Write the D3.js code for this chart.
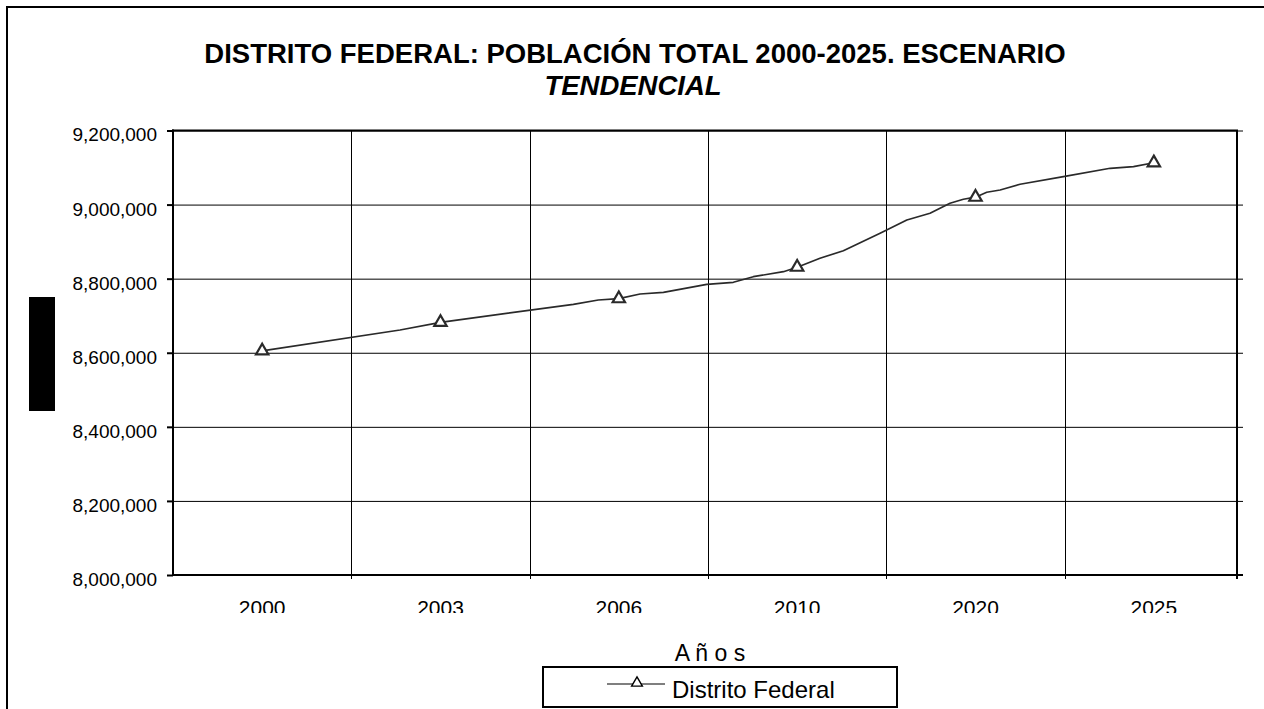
<!DOCTYPE html>
<html>
<head>
<meta charset="utf-8">
<script src="https://cdn.jsdelivr.net/npm/d3@7"></script>
<style>
  body { margin: 0; background: #fff; }
  svg { display: block; font-family: "Liberation Sans", Arial, sans-serif; }
</style>
</head>
<body>
<svg id="chart" width="1264" height="709"></svg>
<script>
// ---- data ----
const categories = ["2000", "2003", "2006", "2010", "2020", "2025"];
const population = [8605000, 8682000, 8746000, 8831000, 9020000, 9113000];
// intermediate points of the drawn line, position given in category-index units
const tracePosition = [0, 0.773, 1, 1.745, 1.885, 2, 2.119, 2.25, 2.493, 2.642, 2.754, 2.923, 3,
  3.128, 3.259, 3.465, 3.615, 3.745, 3.857, 3.932, 4, 4.063, 4.138, 4.25, 4.493, 4.755, 4.886, 5];
const traceValues = [8605000, 8661400, 8682000, 8730800, 8742400, 8746000, 8758600, 8763200, 8784800,
  8790200, 8805300, 8818800, 8831000, 8855000, 8875500, 8922500, 8958400, 8976500, 9003500, 9014300,
  9020000, 9033200, 9039400, 9054800, 9075300, 9098000, 9102300, 9113000];
const yTicks = [8000000, 8200000, 8400000, 8600000, 8800000, 9000000, 9200000];
const yDomain = [8000000, 9200000];
const titleLine1 = "DISTRITO FEDERAL: POBLACIÓN TOTAL 2000-2025. ESCENARIO";
const titleLine2 = "TENDENCIAL";
const xAxisTitle = "A ñ o s";
const seriesName = "Distrito Federal";

// ---- layout ----
const svg = d3.select("#chart");
const L = 173, R = 1243, T = 130.5, B = 575, frameRight = 1237;

const x = d3.scaleBand().domain(categories).range([L, R]).padding(0);
const y = d3.scaleLinear().domain(yDomain).range([B, T]);
const xi = d3.scaleLinear().domain([0, categories.length - 1])
  .range([x(categories[0]) + x.bandwidth() / 2, x(categories[categories.length - 1]) + x.bandwidth() / 2]);

// outer chart border
svg.append("rect").attr("x", 7).attr("y", 7).attr("width", 1300).attr("height", 800)
  .attr("fill", "none").attr("stroke", "#000").attr("stroke-width", 2);

// title
svg.append("text").attr("x", 635).attr("y", 63).attr("text-anchor", "middle")
  .attr("font-size", 27.5).attr("font-weight", "bold").text(titleLine1);
svg.append("text").attr("x", 633).attr("y", 95).attr("text-anchor", "middle")
  .attr("font-size", 27.5).attr("font-weight", "bold").attr("font-style", "italic").text(titleLine2);

// black box (y-axis title block)
svg.append("rect").attr("x", 29).attr("y", 297).attr("width", 26).attr("height", 114).attr("fill", "#000");

// horizontal gridlines
svg.append("g").attr("transform", `translate(${L},0)`)
  .call(d3.axisLeft(y).tickValues(yTicks).tickSize(-(R - L + 0)).tickFormat(""))
  .call(g => g.select(".domain").remove())
  .call(g => g.selectAll("line").attr("stroke", "#000").attr("stroke-width", 1));

// vertical gridlines at category boundaries
svg.append("g").selectAll("line").data(categories.slice(1)).join("line")
  .attr("x1", d => Math.round(x(d)) + 0.5).attr("x2", d => Math.round(x(d)) + 0.5)
  .attr("y1", T).attr("y2", B + 4)
  .attr("stroke", "#000").attr("stroke-width", 1);

// y axis with labels
const yAxis = svg.append("g").attr("transform", `translate(${L},0)`)
  .call(d3.axisLeft(y).tickValues(yTicks).tickSize(6).tickPadding(10).tickFormat(d3.format(",")));
yAxis.select(".domain").remove();
yAxis.selectAll("line").attr("stroke", "#000").attr("stroke-width", 2);
yAxis.selectAll("text").attr("font-size", 19).attr("fill", "#000")
  .attr("font-family", "Liberation Sans, Arial, sans-serif").attr("dy", "0.55em");

// frame lines
const frame = svg.append("g").attr("stroke", "#000").attr("stroke-width", 2);
frame.append("line").attr("x1", L).attr("x2", L).attr("y1", T - 1).attr("y2", B + 1);
frame.append("line").attr("x1", L - 1).attr("x2", frameRight + 1).attr("y1", T).attr("y2", T);
frame.append("line").attr("x1", L - 1).attr("x2", R).attr("y1", B).attr("y2", B);
frame.append("line").attr("x1", frameRight).attr("x2", frameRight).attr("y1", T).attr("y2", B + 4);

// x labels (clipped at bottom as in original)
svg.append("clipPath").attr("id", "xclip").append("rect")
  .attr("x", L - 50).attr("y", B + 5).attr("width", R - L + 100).attr("height", 33);
svg.append("g").attr("clip-path", "url(#xclip)").selectAll("text").data(categories).join("text")
  .attr("x", d => x(d) + x.bandwidth() / 2).attr("y", 615)
  .attr("text-anchor", "middle").attr("font-size", 21).text(d => d);

// axis title
svg.append("text").attr("x", 710).attr("y", 661).attr("text-anchor", "middle")
  .attr("font-size", 23).text(xAxisTitle);

// series line
const line = d3.line().x((d, i) => xi(tracePosition[i])).y(d => y(d));
svg.append("path").datum(traceValues).attr("d", line)
  .attr("fill", "none").attr("stroke", "#2a2a2a").attr("stroke-width", 1.7).attr("stroke-linejoin", "round");

// markers
const tri = d3.symbol(d3.symbolTriangle, 66);
svg.append("g").selectAll("path").data(population).join("path")
  .attr("d", tri)
  .attr("transform", (d, i) => `translate(${x(categories[i]) + x.bandwidth() / 2},${y(d)})`)
  .attr("fill", "#fff").attr("stroke", "#2a2a2a").attr("stroke-width", 2.2);

// legend
const lg = svg.append("g");
lg.append("rect").attr("x", 543).attr("y", 667).attr("width", 354).attr("height", 40)
  .attr("fill", "#fff").attr("stroke", "#000").attr("stroke-width", 2);
lg.append("line").attr("x1", 607).attr("x2", 665).attr("y1", 684).attr("y2", 684)
  .attr("stroke", "#000").attr("stroke-width", 1.2);
lg.append("path").attr("d", d3.symbol(d3.symbolTriangle, 50))
  .attr("transform", "translate(637,683)").attr("fill", "#fff").attr("stroke", "#000").attr("stroke-width", 1.4);
lg.append("text").attr("x", 672).attr("y", 698).attr("font-size", 24).text(seriesName);
</script>
</body>
</html>
